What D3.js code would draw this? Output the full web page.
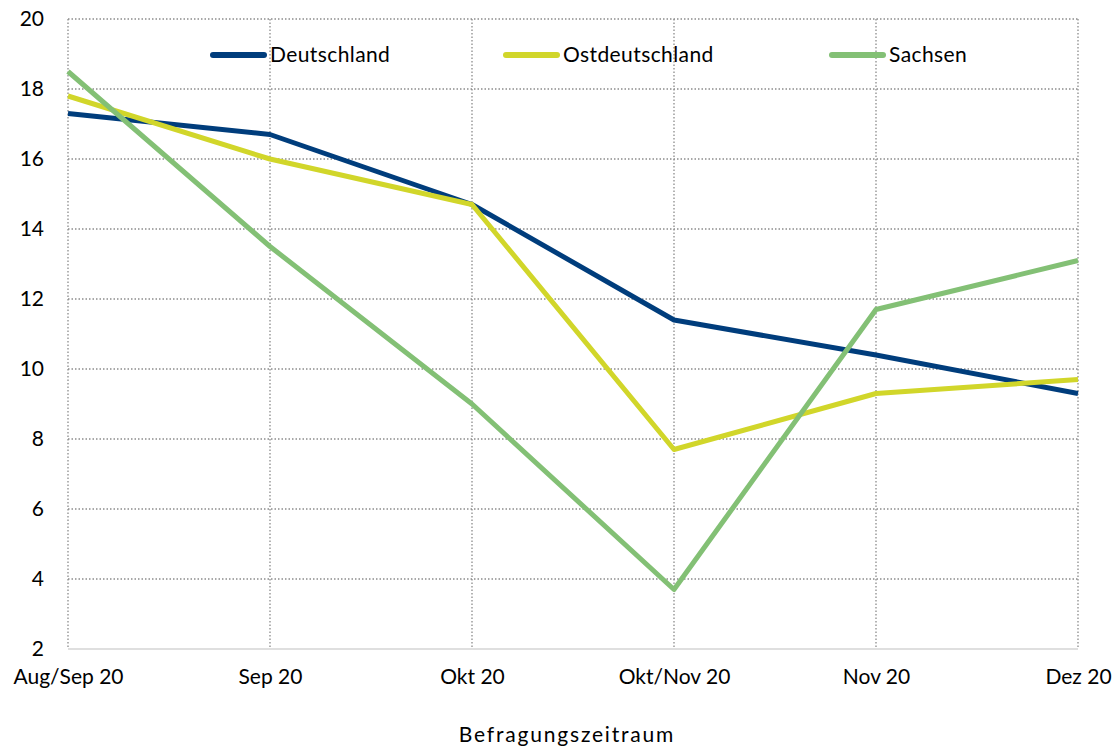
<!DOCTYPE html>
<html><head><meta charset="utf-8">
<script src="https://cdn.jsdelivr.net/npm/d3@7"></script>
<style>body{margin:0;background:#fff}svg{display:block}text{font-family:Lato,"Open Sans",sans-serif;fill:#000}</style>
</head><body><svg id="c" width="1116" height="747"></svg>
<script>
const categories = ["Aug/Sep 20","Sep 20","Okt 20","Okt/Nov 20","Nov 20","Dez 20"];
const deutschland = [17.3,16.7,14.7,11.4,10.4,9.3];
const ostdeutschland = [17.8,16.0,14.7,7.7,9.3,9.7];
const sachsen = [18.5,13.5,9.0,3.7,11.7,13.1];
const yTicks = [2,4,6,8,10,12,14,16,18,20];
const seriesNames = ["Deutschland","Ostdeutschland","Sachsen"];
const colors = ["#003d7c","#d1d62a","#83c075"];
const series = [deutschland, ostdeutschland, sachsen];

const svg = d3.select("#c");
const L=68, R=1078, T=19, B=649;
const FS = "21px";
const x = d3.scalePoint().domain(categories).range([L,R]);
const y = d3.scaleLinear().domain([2,20]).range([B,T]);

// grid
const g = svg.append("g");
g.selectAll(".hg").data(yTicks.filter(d=>d>2)).join("line")
 .attr("x1",L).attr("x2",R).attr("y1",d=>y(d)).attr("y2",d=>y(d))
 .attr("stroke","#8c8c8c").attr("stroke-width",1.3).attr("stroke-dasharray","1.5,2");
g.selectAll(".vg").data(categories).join("line")
 .attr("x1",d=>x(d)).attr("x2",d=>x(d)).attr("y1",T).attr("y2",B)
 .attr("stroke","#8c8c8c").attr("stroke-width",1.3).attr("stroke-dasharray","1.5,2");
g.append("line").attr("x1",L).attr("x2",R).attr("y1",B).attr("y2",B).attr("stroke","#d4d4d4").attr("stroke-width",1.5);

// y axis labels
const ya = svg.append("g").attr("transform",`translate(${L},0)`)
 .call(d3.axisLeft(y).tickValues(yTicks).tickSize(0).tickPadding(24));
ya.select(".domain").remove();
ya.selectAll("text").style("font-size",FS).style("font-family","Lato, sans-serif").attr("fill","#000");

// x axis labels
const xa = svg.append("g").attr("transform",`translate(0,${B})`)
 .call(d3.axisBottom(x).tickSize(0).tickPadding(20));
xa.select(".domain").remove();
xa.selectAll("text").style("font-size",FS).style("font-family","Lato, sans-serif").attr("fill","#000");

// lines
const line = d3.line().x((d,i)=>x(categories[i])).y(d=>y(d));
series.forEach((s,i)=>{
  svg.append("path").datum(s).attr("d",line).attr("fill","none")
   .attr("stroke",colors[i]).attr("stroke-width",5).attr("stroke-linejoin","round");
});

// legend
const legX = [211,504,830];
seriesNames.forEach((n,i)=>{
  svg.append("line").attr("x1",legX[i]+2).attr("x2",legX[i]+53).attr("y1",55).attr("y2",55)
   .attr("stroke",colors[i]).attr("stroke-width",6).attr("stroke-linecap","round");
  svg.append("text").attr("x",legX[i]+59).attr("y",55).attr("dy","0.35em")
   .style("font-size",FS).style("letter-spacing","0.4px").text(n);
});

svg.append("text").attr("x",567).attr("y",742).attr("text-anchor","middle")
 .style("font-size",FS).style("letter-spacing","1.8px").text("Befragungszeitraum");
</script></body></html>
